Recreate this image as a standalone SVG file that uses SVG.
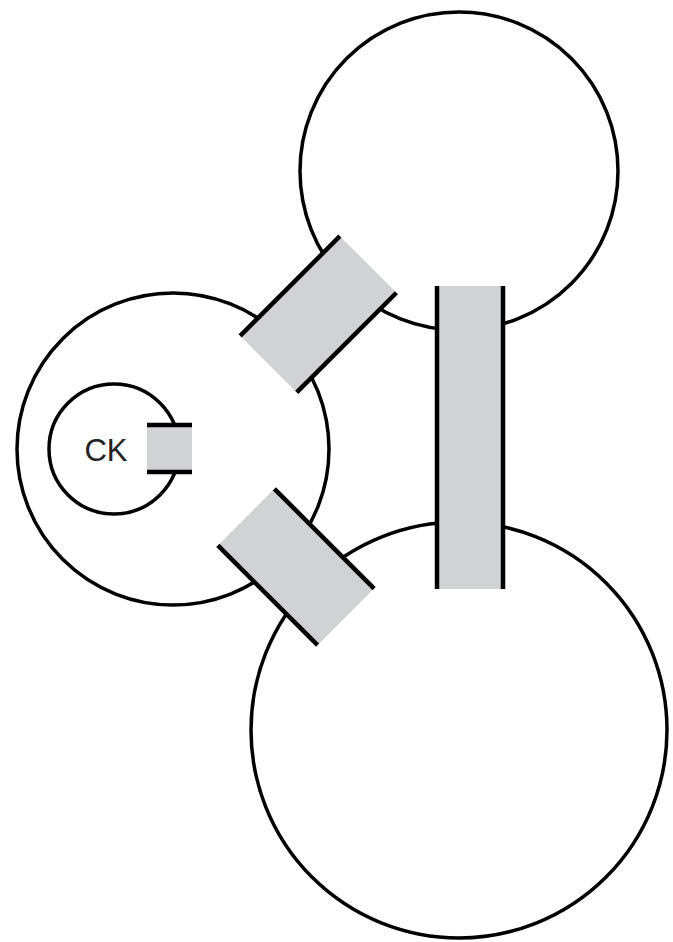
<svg xmlns="http://www.w3.org/2000/svg" width="673" height="942" viewBox="0 0 673 942">
<style>
.c{fill:#fff;stroke:#000;stroke-width:3.5}
.g{fill:#d1d2d4;stroke:none}
.e{stroke:#000;stroke-width:4.5;fill:none}
.t{font-family:"Liberation Sans",Arial,sans-serif;font-size:31px;fill:#222}
</style>
<rect width="673" height="942" fill="#fff"/>
<g id="top-circle"><circle class="c" cx="459" cy="171" r="159"/></g>
<g id="left-circle"><circle class="c" cx="173" cy="449" r="156"/></g>
<g id="bottom-circle"><circle class="c" cx="459" cy="730" r="208"/></g>
<g id="ck"><circle class="c" cx="114" cy="449" r="65"/><text class="t" x="106" y="461" text-anchor="middle">CK</text></g>
<g id="connectors">
<g id="bridge-ck">
<rect class="g" x="147" y="425" width="45" height="47"/>
<line class="e" x1="147" y1="425" x2="192" y2="425"/>
<line class="e" x1="147" y1="472" x2="192" y2="472"/>
</g>
<g id="bridge-vertical">
<rect class="g" x="437" y="286" width="66" height="303"/>
<line class="e" x1="437" y1="286" x2="437" y2="589"/>
<line class="e" x1="503" y1="286" x2="503" y2="589"/>
</g>
<g id="bridge-upper" transform="translate(318.3 314.3) rotate(-45)">
<rect class="g" x="-70.5" y="-40" width="141" height="80"/>
<line class="e" x1="-70.5" y1="-40" x2="70.5" y2="-40"/>
<line class="e" x1="-70.5" y1="40" x2="70.5" y2="40"/>
</g>
<g id="bridge-lower" transform="translate(296 567) rotate(45)">
<rect class="g" x="-70.5" y="-40" width="141" height="80"/>
<line class="e" x1="-70.5" y1="-40" x2="70.5" y2="-40"/>
<line class="e" x1="-70.5" y1="40" x2="70.5" y2="40"/>
</g>
</g>
</svg>
